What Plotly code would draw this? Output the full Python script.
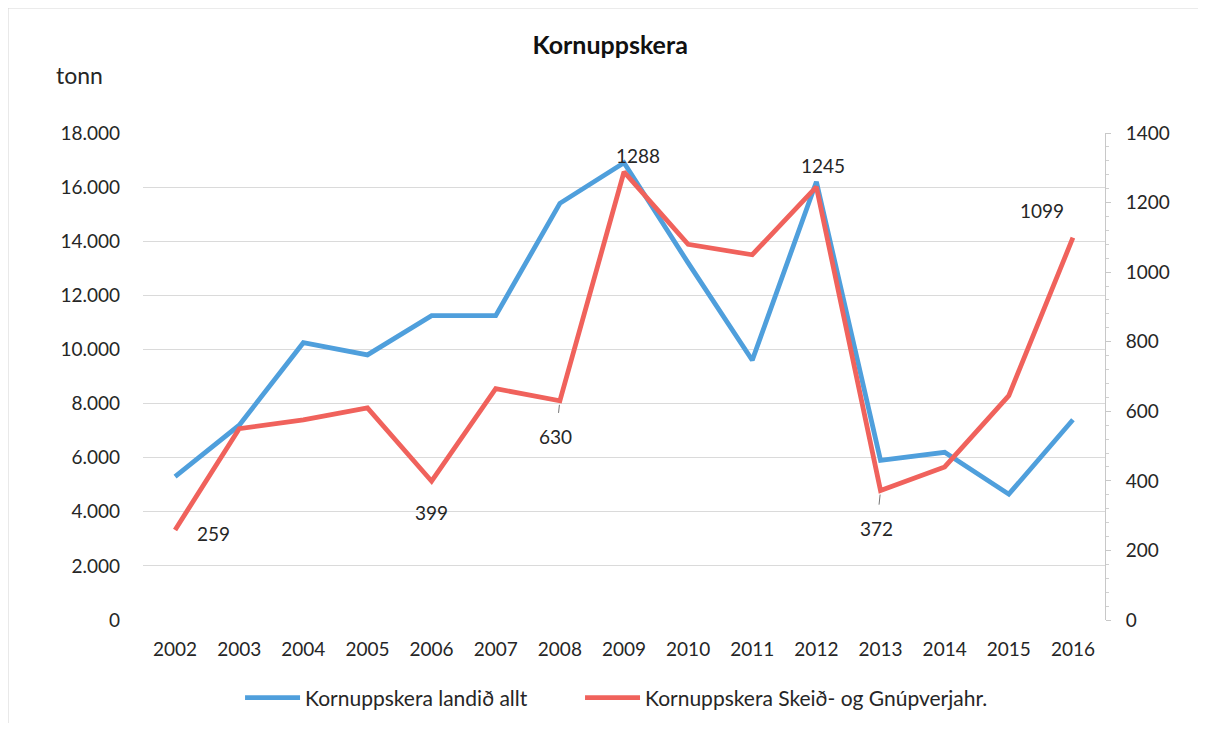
import plotly.graph_objects as go

years = [str(y) for y in range(2002, 2017)]
landid_allt = [5300, 7200, 10250, 9800, 11250, 11250, 15400, 16900, 13200, 9600, 16200, 5900, 6200, 4650, 7400]
skeid_gnup = [259, 550, 575, 610, 399, 665, 630, 1288, 1080, 1050, 1245, 372, 440, 645, 1099]
labelled_years = ["2002", "2006", "2008", "2009", "2012", "2013", "2016"]

left_ticks = [0, 2000, 4000, 6000, 8000, 10000, 12000, 14000, 16000, 18000]
right_ticks = [0, 200, 400, 600, 800, 1000, 1200, 1400]

BLUE = "#4f9fdc"
RED = "#f0625c"
FONT = "Lato"
TXT = "#262626"

fig = go.Figure()
fig.add_trace(go.Scatter(x=years, y=landid_allt, mode="lines", name="Kornuppskera landið allt",
                         line=dict(color=BLUE, width=4.8), yaxis="y", legend="legend"))
fig.add_trace(go.Scatter(x=years, y=skeid_gnup, mode="lines", name="Kornuppskera Skeið- og Gnúpverjahr.",
                         line=dict(color=RED, width=4.8), yaxis="y2", legend="legend2"))

# label placement (pixel offsets) per labelled point
offsets = {
    "2002": dict(showarrow=False, xshift=38, yshift=-4),
    "2006": dict(showarrow=False, xshift=0, yshift=-31),
    "2008": dict(showarrow=True, ax=-4, ay=36),
    "2009": dict(showarrow=False, xshift=14, yshift=16),
    "2012": dict(showarrow=False, xshift=7, yshift=21),
    "2013": dict(showarrow=True, ax=-4, ay=38),
    "2016": dict(showarrow=False, xshift=-31, yshift=27),
}
for yr in labelled_years:
    i = years.index(yr)
    o = offsets[yr]
    kw = dict(x=i, y=skeid_gnup[i], xref="x", yref="y2", text=str(skeid_gnup[i]),
              font=dict(family=FONT, size=19, color=TXT))
    if o["showarrow"]:
        kw.update(showarrow=True, ax=o["ax"], ay=o["ay"], arrowhead=0, arrowwidth=1,
                  arrowcolor="#777777", standoff=4, startstandoff=11)
    else:
        kw.update(showarrow=False, xshift=o["xshift"], yshift=o["yshift"])
    fig.add_annotation(**kw)

fig.add_annotation(text="tonn", x=-0.066, y=1.119, xref="paper", yref="paper", showarrow=False,
                   xanchor="center", yanchor="middle",
                   font=dict(family=FONT, size=23, color=TXT))

# faint frame of the scanned chart (top and left edges)
fig.add_shape(type="line", xref="paper", yref="paper", x0=-0.1403, x1=1.12, y0=1.2567, y1=1.2567,
              line=dict(color="#d6d6d6", width=1))
fig.add_shape(type="line", xref="paper", yref="paper", x0=-0.1403, x1=-0.1403, y0=1.2567, y1=-0.26,
              line=dict(color="#d6d6d6", width=1))

legend_common = dict(orientation="h", xref="container", yref="container", xanchor="left",
                     y=0.035, yanchor="middle", font=dict(family=FONT, size=21, color=TXT),
                     itemwidth=55, bgcolor="rgba(0,0,0,0)")

fig.update_layout(
    width=1190, height=715,
    margin=dict(l=135, r=93, t=125, b=103, autoexpand=False),
    paper_bgcolor="white", plot_bgcolor="white",
    separators=",.",
    title=dict(text="<b>Kornuppskera</b>", x=0.506, xanchor="center", y=0.948, yanchor="middle",
               font=dict(family=FONT, size=25, color="#111111")),
    font=dict(family=FONT, size=19, color=TXT),
    showlegend=True,
    legend=dict(x=0.195, **legend_common),
    legend2=dict(x=0.4807, **legend_common),
    xaxis=dict(type="category", range=[-0.5, 14.5], showgrid=False, showline=False, ticks="",
               automargin=False, ticklabelstandoff=16, tickfont=dict(family=FONT, size=19, color=TXT)),
    yaxis=dict(range=[0, 18000], tickvals=left_ticks, tickformat=",d", showgrid=True,
               gridcolor="#dadada", gridwidth=1, zeroline=False, showline=False, ticks="",
               automargin=False, ticklabelstandoff=22, tickfont=dict(family=FONT, size=19, color=TXT)),
    yaxis2=dict(range=[0, 1400], tickvals=right_ticks, tickformat="d", overlaying="y", side="right",
                showgrid=False, zeroline=False, showline=True, linecolor="#c8c8c8", linewidth=1,
                ticks="outside", ticklen=5, tickcolor="#c8c8c8", automargin=False,
                minor=dict(ticks="outside", ticklen=3, tickcolor="#d0d0d0", dtick=40),
                ticklabelstandoff=11, tickfont=dict(family=FONT, size=19, color=TXT)),
)

fig.write_html("out.html")
